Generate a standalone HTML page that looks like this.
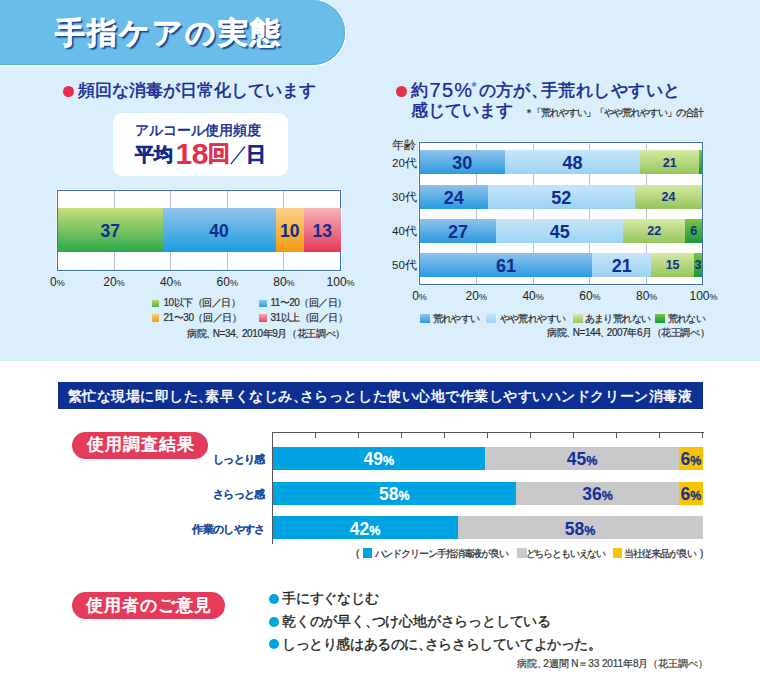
<!DOCTYPE html><html><head><meta charset="utf-8"><style>
*{margin:0;padding:0;box-sizing:border-box}
html,body{width:760px;height:694px;overflow:hidden;background:#fff}
body{position:relative;font-family:"Liberation Sans",sans-serif;color:#1b2b86}
.a{position:absolute;white-space:nowrap}
.fx{display:flex}
.seg{height:100%;position:relative;flex:none}
.lab{position:absolute;left:0;right:0;text-align:center;font-weight:bold;color:#0f2c8e}
.ax{font-size:12px;color:#222;line-height:14px}
.ax small{font-size:9px}
.lg{font-size:10px;color:#2a2a2a;line-height:12px;-webkit-text-stroke:0.2px #2a2a2a}
.dot{width:11px;height:11px;border-radius:50%;background:#e5314f}
.h2{font-size:17px;color:#14298e;line-height:20px;-webkit-text-stroke:0.5px #14298e}
.grid{width:1px;background:#b4c2de}
.chart{background:#fff;border:1px solid #3d6cc0;box-shadow:0 0 0 1px rgba(255,255,255,.7)}
.op{font-size:13.8px;color:#231f20;line-height:18px;-webkit-text-stroke:0.35px #231f20}
.sl{font-size:10.5px;font-weight:bold;color:#1a4a9e;line-height:14px;text-align:right;letter-spacing:-0.7px;-webkit-text-stroke:0.05px #1a4a9e}
</style></head><body>
<div class="a" style="left:0;top:0;width:760px;height:360.5px;background:#daeefc"></div>
<div class="a" style="left:-40px;top:-1.2px;width:385.7px;height:68px;border-radius:0 34px 34px 0;background:#fff"></div>
<div class="a" style="left:-40px;top:-0.3px;width:384.6px;height:65.6px;border-radius:0 32.8px 32.8px 0;background:#6bbde9;box-shadow:inset 0 -1px 0 #55ade3,inset -1px 0 0 #55ade3"></div>
<div class="a" style="left:55px;top:13px;font-size:30px;line-height:40px;font-weight:bold;color:#fff;letter-spacing:2px;-webkit-text-stroke:0.6px #fff;text-shadow:1.5px 1.5px 1.2px rgba(20,60,140,.95)">手指ケアの実態</div>
<div class="a dot" style="left:63px;top:86px;width:10.5px;height:10.5px"></div>
<div class="a h2" style="left:78px;top:80.5px">頻回な消毒が日常化しています</div>
<div class="a" style="left:113px;top:112.5px;width:175px;height:63px;background:#fff;border-radius:9px"></div>
<div class="a" style="left:135px;top:121.3px;font-size:14.2px;line-height:18px;color:#14298e;-webkit-text-stroke:0.45px #14298e;letter-spacing:0px">アルコール使用頻度</div>
<div class="a" style="left:134.5px;top:144px;font-size:18.5px;line-height:22px;font-weight:bold;color:#13298a;-webkit-text-stroke:0.6px #13298a;letter-spacing:0px">平均</div>
<div class="a" style="left:175.5px;top:138px;font-size:30px;line-height:32px;font-weight:bold;color:#e0304e;letter-spacing:-0.5px">18</div>
<div class="a" style="left:207.5px;top:140.5px;font-size:22px;line-height:26px;font-weight:bold;color:#e0304e;-webkit-text-stroke:0.6px #e0304e">回</div>
<svg class="a" style="left:0;top:0" width="760" height="694"><line x1="230.8" y1="164.2" x2="245" y2="146.5" stroke="#1a3a98" stroke-width="1.3"/></svg>
<div class="a" style="left:246.2px;top:143px;font-size:19.5px;line-height:23px;font-weight:bold;color:#13298a;-webkit-text-stroke:0.6px #13298a">日</div>
<div class="a chart" style="left:57px;top:189.5px;width:284.3px;height:81.5px"></div>
<div class="a grid" style="left:113.5px;top:190.5px;height:79.5px"></div>
<div class="a grid" style="left:170.1px;top:190.5px;height:79.5px"></div>
<div class="a grid" style="left:226.8px;top:190.5px;height:79.5px"></div>
<div class="a grid" style="left:283.4px;top:190.5px;height:79.5px"></div>
<div class="a fx" style="left:58px;top:208.2px;width:282.6px;height:43.4px"><div class="seg" style="width:104.56px;background:linear-gradient(#c8dd7c,#2aa94a)"><div class="lab" style="top:12.5px;font-size:17.5px;line-height:20px">37</div></div><div class="seg" style="width:113.04px;background:linear-gradient(#93c4eb,#1c9de0)"><div class="lab" style="top:12.5px;font-size:17.5px;line-height:20px">40</div></div><div class="seg" style="width:28.26px;background:linear-gradient(#fad08a,#f19a10)"><div class="lab" style="top:12.5px;font-size:17.5px;line-height:20px">10</div></div><div class="seg" style="width:36.74px;background:linear-gradient(#f5b3b8,#e43858)"><div class="lab" style="top:12.5px;font-size:17.5px;line-height:20px">13</div></div></div>
<div class="a ax" style="left:17.3px;width:80px;text-align:center;top:274.5px">0<small>%</small></div>
<div class="a ax" style="left:74.0px;width:80px;text-align:center;top:274.5px">20<small>%</small></div>
<div class="a ax" style="left:130.6px;width:80px;text-align:center;top:274.5px">40<small>%</small></div>
<div class="a ax" style="left:187.3px;width:80px;text-align:center;top:274.5px">60<small>%</small></div>
<div class="a ax" style="left:243.9px;width:80px;text-align:center;top:274.5px">80<small>%</small></div>
<div class="a ax" style="left:300.6px;width:80px;text-align:center;top:274.5px">100<small>%</small></div>
<div class="a" style="left:151.6px;top:299.7px;width:7.8px;height:7.4px;background:linear-gradient(#b8d870,#4cb048)"></div>
<div class="a" style="left:258.8px;top:299.7px;width:7.8px;height:7.4px;background:linear-gradient(#8cc4ee,#3a9ee0)"></div>
<div class="a" style="left:151.6px;top:314.2px;width:7.8px;height:7.4px;background:linear-gradient(#f9c878,#f29a1a)"></div>
<div class="a" style="left:258.8px;top:314.2px;width:7.8px;height:7.4px;background:linear-gradient(#f4a6ae,#e44a62)"></div>
<div class="a lg" style="left:163.5px;top:297px;letter-spacing:-0.45px">10以下（回／日）</div>
<div class="a lg" style="left:270.5px;top:297px;letter-spacing:-0.55px">11〜20（回／日）</div>
<div class="a lg" style="left:163.5px;top:311.5px;letter-spacing:-0.45px">21〜30（回／日）</div>
<div class="a lg" style="left:270.5px;top:311.5px;letter-spacing:-0.45px">31以上（回／日）</div>
<div class="a lg" style="left:187px;top:327.5px;letter-spacing:-0.38px">病院<span style="letter-spacing:-3.5px">、</span>N=34<span style="letter-spacing:-3.5px">、</span>2010年9月（花王調べ）</div>
<div class="a dot" style="left:396.3px;top:86px;width:10.5px;height:10.5px"></div>
<div class="a h2" style="left:411px;top:80.5px">約</div>
<div class="a h2" style="left:429.5px;top:79px;font-size:20px;line-height:22px;letter-spacing:1.3px;-webkit-text-stroke:0.2px #14298e">75%</div>
<div class="a" style="left:471.5px;top:80px;font-size:13px;line-height:14px;font-weight:bold;color:#4a80d0">*</div>
<div class="a h2" style="left:478.5px;top:80.5px;letter-spacing:0.45px">の方が<span style="letter-spacing:-7px">、</span>手荒れしやすいと</div>
<div class="a h2" style="left:411px;top:100.5px;letter-spacing:0.1px">感じています</div>
<div class="a" style="left:523.5px;top:107px;font-size:9.5px;line-height:12px;color:#2a2a2a;-webkit-text-stroke:0.2px #2a2a2a;letter-spacing:-1.05px">＊「荒れやすい」「やや荒れやすい」の合計</div>
<div class="a" style="left:392px;top:137.5px;font-size:11.5px;line-height:14px;color:#222">年齢</div>
<div class="a chart" style="left:419px;top:142px;width:284.2px;height:142.5px"></div>
<div class="a grid" style="left:475.8px;top:143.5px;height:140px"></div>
<div class="a grid" style="left:532.6px;top:143.5px;height:140px"></div>
<div class="a grid" style="left:589.4px;top:143.5px;height:140px"></div>
<div class="a grid" style="left:646.2px;top:143.5px;height:140px"></div>
<div class="a" style="left:392px;top:155.5px;font-size:11.5px;line-height:14px;color:#222">20代</div>
<div class="a fx" style="left:420px;top:150px;width:282.3px;height:24px"><div class="seg" style="width:84.69px;background:linear-gradient(#90c3eb,#2a9be0)"><div class="lab" style="top:3px;font-size:18px;line-height:20px">30</div></div><div class="seg" style="width:135.50px;background:linear-gradient(#c6e6f9,#9bd3f3)"><div class="lab" style="top:3px;font-size:18px;line-height:20px">48</div></div><div class="seg" style="width:59.28px;background:linear-gradient(#d6e9a4,#95c55a)"><div class="lab" style="top:5.5px;font-size:12.5px;line-height:14px">21</div></div><div class="seg" style="width:2.82px;background:linear-gradient(#7fc246,#17993a)"></div></div>
<div class="a" style="left:392px;top:190.3px;font-size:11.5px;line-height:14px;color:#222">30代</div>
<div class="a fx" style="left:420px;top:184.8px;width:282.3px;height:24px"><div class="seg" style="width:67.75px;background:linear-gradient(#90c3eb,#2a9be0)"><div class="lab" style="top:3px;font-size:18px;line-height:20px">24</div></div><div class="seg" style="width:146.80px;background:linear-gradient(#c6e6f9,#9bd3f3)"><div class="lab" style="top:3px;font-size:18px;line-height:20px">52</div></div><div class="seg" style="width:67.75px;background:linear-gradient(#d6e9a4,#95c55a)"><div class="lab" style="top:5.5px;font-size:12.5px;line-height:14px">24</div></div></div>
<div class="a" style="left:392px;top:224.0px;font-size:11.5px;line-height:14px;color:#222">40代</div>
<div class="a fx" style="left:420px;top:218.5px;width:282.3px;height:24px"><div class="seg" style="width:76.22px;background:linear-gradient(#90c3eb,#2a9be0)"><div class="lab" style="top:3px;font-size:18px;line-height:20px">27</div></div><div class="seg" style="width:127.03px;background:linear-gradient(#c6e6f9,#9bd3f3)"><div class="lab" style="top:3px;font-size:18px;line-height:20px">45</div></div><div class="seg" style="width:62.11px;background:linear-gradient(#d6e9a4,#95c55a)"><div class="lab" style="top:5.5px;font-size:12.5px;line-height:14px">22</div></div><div class="seg" style="width:16.94px;background:linear-gradient(#7fc246,#17993a)"><div class="lab" style="top:5.5px;font-size:12.5px;line-height:14px">6</div></div></div>
<div class="a" style="left:392px;top:258.1px;font-size:11.5px;line-height:14px;color:#222">50代</div>
<div class="a fx" style="left:420px;top:252.6px;width:282.3px;height:24px"><div class="seg" style="width:172.20px;background:linear-gradient(#90c3eb,#2a9be0)"><div class="lab" style="top:3px;font-size:18px;line-height:20px">61</div></div><div class="seg" style="width:59.28px;background:linear-gradient(#c6e6f9,#9bd3f3)"><div class="lab" style="top:3px;font-size:18px;line-height:20px">21</div></div><div class="seg" style="width:42.34px;background:linear-gradient(#d6e9a4,#95c55a)"><div class="lab" style="top:5.5px;font-size:12.5px;line-height:14px">15</div></div><div class="seg" style="width:8.47px;background:linear-gradient(#7fc246,#17993a)"><div class="lab" style="top:5.5px;font-size:12.5px;line-height:14px">3</div></div></div>
<div class="a ax" style="left:379.5px;width:80px;text-align:center;top:288.5px">0<small>%</small></div>
<div class="a ax" style="left:436.3px;width:80px;text-align:center;top:288.5px">20<small>%</small></div>
<div class="a ax" style="left:493.1px;width:80px;text-align:center;top:288.5px">40<small>%</small></div>
<div class="a ax" style="left:549.9px;width:80px;text-align:center;top:288.5px">60<small>%</small></div>
<div class="a ax" style="left:606.7px;width:80px;text-align:center;top:288.5px">80<small>%</small></div>
<div class="a ax" style="left:663.5px;width:80px;text-align:center;top:288.5px">100<small>%</small></div>
<div class="a" style="left:419.8px;top:313.9px;width:10px;height:9.5px;background:linear-gradient(#90c3eb,#2a9be0)"></div>
<div class="a lg" style="left:432.5px;top:312.5px;letter-spacing:-0.55px">荒れやすい</div>
<div class="a" style="left:486.3px;top:313.9px;width:10px;height:9.5px;background:linear-gradient(#c6e6f9,#9bd3f3)"></div>
<div class="a lg" style="left:499.5px;top:312.5px;letter-spacing:-0.55px">やや荒れやすい</div>
<div class="a" style="left:572.6px;top:313.9px;width:10px;height:9.5px;background:linear-gradient(#d6e9a4,#95c55a)"></div>
<div class="a lg" style="left:584.5px;top:312.5px;letter-spacing:-0.55px">あまり荒れない</div>
<div class="a" style="left:654.7px;top:313.9px;width:10px;height:9.5px;background:linear-gradient(#7fc246,#17993a)"></div>
<div class="a lg" style="left:667.5px;top:312.5px;letter-spacing:-0.55px">荒れない</div>
<div class="a lg" style="left:547px;top:327px;letter-spacing:-0.42px">病院<span style="letter-spacing:-3.5px">、</span>N=144<span style="letter-spacing:-3.5px">、</span>2007年6月（花王調べ）</div>
<div class="a" style="left:57.5px;top:382px;width:645.5px;height:26.7px;background:#0e3092"></div>
<div class="a" style="left:67.5px;top:386px;font-size:14px;line-height:20px;color:#fff;letter-spacing:0.53px;-webkit-text-stroke:0.45px #fff">繁忙な現場に即した<span style="letter-spacing:-6.8px">、</span>素早くなじみ<span style="letter-spacing:-6.8px">、</span>さらっとした使い心地で作業しやすいハンドクリーン消毒液</div>
<div class="a" style="left:72.2px;top:431.6px;width:136px;height:27px;border-radius:13.5px;background:#e53b5b"></div>
<div class="a" style="left:86.5px;top:434px;font-size:17px;line-height:22px;color:#fff;letter-spacing:1.2px;-webkit-text-stroke:0.7px #fff">使用調査結果</div>
<div class="a" style="left:72.2px;top:592.2px;width:153px;height:27px;border-radius:13.5px;background:#e53b5b"></div>
<div class="a" style="left:85.5px;top:594.5px;font-size:17px;line-height:22px;color:#fff;letter-spacing:1px;-webkit-text-stroke:0.7px #fff">使用者のご意見</div>
<div class="a" style="left:271.5px;top:432px;width:1px;height:112px;background:#555"></div>
<div class="a" style="left:271.5px;top:432px;width:432px;height:1px;background:#555"></div>
<div class="a" style="left:314.5px;top:432px;width:1px;height:6px;background:#555"></div>
<div class="a" style="left:357.5px;top:432px;width:1px;height:6px;background:#555"></div>
<div class="a" style="left:400.5px;top:432px;width:1px;height:6px;background:#555"></div>
<div class="a" style="left:443.5px;top:432px;width:1px;height:6px;background:#555"></div>
<div class="a" style="left:486.5px;top:432px;width:1px;height:6px;background:#555"></div>
<div class="a" style="left:529.5px;top:432px;width:1px;height:6px;background:#555"></div>
<div class="a" style="left:572.5px;top:432px;width:1px;height:6px;background:#555"></div>
<div class="a" style="left:615.5px;top:432px;width:1px;height:6px;background:#555"></div>
<div class="a" style="left:658.5px;top:432px;width:1px;height:6px;background:#555"></div>
<div class="a" style="left:701.5px;top:432px;width:1px;height:6px;background:#555"></div>
<div class="a fx" style="left:272.5px;top:447.2px;width:431px;height:23.3px"><div class="seg" style="width:212.5px;background:#00a3e2"><div class="lab" style="top:3.2px;font-size:17.5px;line-height:18px;color:#fff">49<span style="font-size:12.5px;-webkit-text-stroke:0.3px #fff">%</span></div></div><div class="seg" style="width:194px;background:#c9c9cc"><div class="lab" style="top:3.2px;font-size:17.5px;line-height:18px;color:#13309a">45<span style="font-size:12.5px;-webkit-text-stroke:0.3px #13309a">%</span></div></div><div class="seg" style="width:23.7px;background:#f9c300"><div class="lab" style="top:3.2px;font-size:17.5px;line-height:18px;color:#13309a">6<span style="font-size:12.5px;-webkit-text-stroke:0.3px #13309a">%</span></div></div></div>
<div class="a fx" style="left:272.5px;top:481.6px;width:431px;height:23.3px"><div class="seg" style="width:243.5px;background:#00a3e2"><div class="lab" style="top:3.8px;font-size:17.5px;line-height:18px;color:#fff">58<span style="font-size:12.5px;-webkit-text-stroke:0.3px #fff">%</span></div></div><div class="seg" style="width:163px;background:#c9c9cc"><div class="lab" style="top:3.8px;font-size:17.5px;line-height:18px;color:#13309a">36<span style="font-size:12.5px;-webkit-text-stroke:0.3px #13309a">%</span></div></div><div class="seg" style="width:23.7px;background:#f9c300"><div class="lab" style="top:3.8px;font-size:17.5px;line-height:18px;color:#13309a">6<span style="font-size:12.5px;-webkit-text-stroke:0.3px #13309a">%</span></div></div></div>
<div class="a fx" style="left:272.5px;top:515.9px;width:431px;height:23.3px"><div class="seg" style="width:185.1px;background:#00a3e2"><div class="lab" style="top:4.3px;font-size:17.5px;line-height:18px;color:#fff">42<span style="font-size:12.5px;-webkit-text-stroke:0.3px #fff">%</span></div></div><div class="seg" style="width:245.1px;background:#c9c9cc"><div class="lab" style="top:4.3px;font-size:17.5px;line-height:18px;color:#13309a">58<span style="font-size:12.5px;-webkit-text-stroke:0.3px #13309a">%</span></div></div></div>
<div class="a sl" style="right:495.5px;top:452px">しっとり感</div>
<div class="a sl" style="right:495.5px;top:486.7px">さらっと感</div>
<div class="a sl" style="right:495.5px;top:521.5px">作業のしやすさ</div>
<div class="a lg" style="left:356px;top:547.5px">(</div>
<div class="a" style="left:362.6px;top:548.3px;width:9.8px;height:10.2px;background:#00a3e2"></div>
<div class="a lg" style="left:374.5px;top:547.5px;letter-spacing:-1.1px">ハンドクリーン手指消毒液が良い</div>
<div class="a" style="left:516.8px;top:548.3px;width:9.8px;height:10.2px;background:#c9c9cc"></div>
<div class="a lg" style="left:525.5px;top:547.5px;letter-spacing:-1.15px">どちらともいえない</div>
<div class="a" style="left:612.7px;top:548.3px;width:9.8px;height:10.2px;background:#f9c400"></div>
<div class="a lg" style="left:624.3px;top:547.5px;letter-spacing:-1.0px">当社従来品が良い</div>
<div class="a lg" style="left:700px;top:547.5px">)</div>
<div class="a" style="left:268.8px;top:593.9px;width:10px;height:10px;border-radius:50%;background:#00a3e2"></div>
<div class="a" style="left:268.8px;top:617.0px;width:10px;height:10px;border-radius:50%;background:#00a3e2"></div>
<div class="a" style="left:268.8px;top:639.4px;width:10px;height:10px;border-radius:50%;background:#00a3e2"></div>
<div class="a op" style="left:282px;top:590px;letter-spacing:-0.2px">手にすぐなじむ</div>
<div class="a op" style="left:282px;top:613px;letter-spacing:-0.2px">乾くのが早く<span style="letter-spacing:-7.2px">、</span>つけ心地がさらっとしている</div>
<div class="a op" style="left:282px;top:635.5px;letter-spacing:-0.4px">しっとり感はあるのに<span style="letter-spacing:-7.2px">、</span>さらさらしていてよかった。</div>
<div class="a lg" style="left:517px;top:658px;color:#444;letter-spacing:-0.1px">病院<span style="letter-spacing:-3.5px">、</span>2週間 N＝33 2011年8月（花王調べ）</div>
</body></html>
